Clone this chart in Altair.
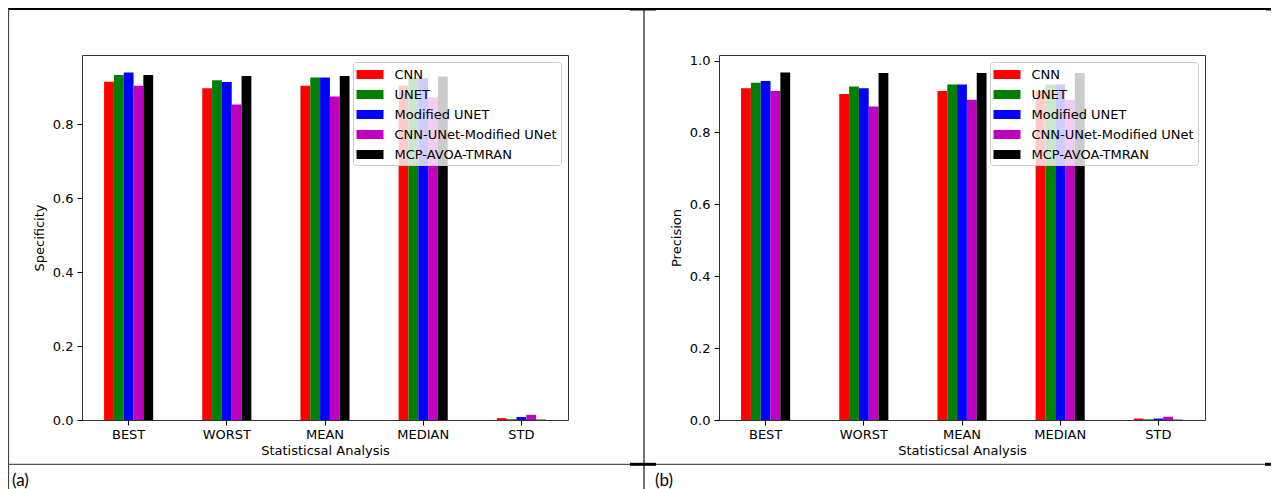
import altair as alt
import pandas as pd

categories = ["BEST", "WORST", "MEAN", "MEDIAN", "STD"]
series_names = ["CNN", "UNET", "Modified UNET", "CNN-UNet-Modified UNet", "MCP-AVOA-TMRAN"]
series_colors = ["#ff0000", "#008000", "#0000ff", "#bf00bf", "#000000"]

# (a) Specificity
spec_cnn = [0.915, 0.897, 0.904, 0.904, 0.005]
spec_unet = [0.933, 0.919, 0.926, 0.925, 0.002]
spec_mod = [0.940, 0.914, 0.926, 0.924, 0.008]
spec_cum = [0.904, 0.853, 0.875, 0.872, 0.014]
spec_mcp = [0.933, 0.930, 0.930, 0.929, 0.001]

# (b) Precision
prec_cnn = [0.923, 0.907, 0.915, 0.915, 0.004]
prec_unet = [0.938, 0.928, 0.933, 0.933, 0.002]
prec_mod = [0.943, 0.923, 0.933, 0.933, 0.004]
prec_cum = [0.915, 0.872, 0.891, 0.891, 0.009]
prec_mcp = [0.967, 0.965, 0.965, 0.965, 0.001]

spec_ticks = [0.0, 0.2, 0.4, 0.6, 0.8]
prec_ticks = [0.0, 0.2, 0.4, 0.6, 0.8, 1.0]

FONT = "DejaVu Sans"
W, H = 486, 365

one = pd.DataFrame({"k": [0]})


def hline(x1, x2, y, color="#444444", w=1.0):
    return alt.Chart(one).mark_rule(color=color, strokeWidth=w).encode(
        x=alt.value(x1), x2=alt.value(x2), y=alt.value(y))


def vline(x, y1, y2, color="#444444", w=1.0):
    return alt.Chart(one).mark_rule(color=color, strokeWidth=w).encode(
        x=alt.value(x), y=alt.value(y1), y2=alt.value(y2))


def label(txt, x, y):
    return alt.Chart(one).mark_text(font="Lato", fontSize=17, align="left",
                                    baseline="middle", color="#000000").encode(
        x=alt.value(x), y=alt.value(y), text=alt.value(txt))


def panel(vals, ytitle, yticks, extra_layers):
    rows = []
    for s, v in zip(series_names, vals):
        for c, val in zip(categories, v):
            rows.append({"category": c, "series": s, "value": val})
    df = pd.DataFrame(rows)
    ymax = float(df["value"].max()) * 1.05
    bars = alt.Chart(df).mark_bar().encode(
        x=alt.X("category:N", sort=categories, title="Statisticsal Analysis",
                scale=alt.Scale(paddingInner=0.5, paddingOuter=0.225),
                axis=alt.Axis(labelAngle=0, labelFontSize=13, titleFontSize=13,
                              labelFont=FONT, titleFont=FONT, titleFontWeight="normal",
                              tickSize=5, tickColor="#000000", labelPadding=3,
                              titlePadding=3, domain=False, labelColor="#000000",
                              titleColor="#000000")),
        xOffset=alt.XOffset("series:N", sort=series_names,
                            scale=alt.Scale(paddingInner=0, paddingOuter=0)),
        y=alt.Y("value:Q", title=ytitle,
                scale=alt.Scale(domain=[0, ymax], nice=False, zero=True),
                axis=alt.Axis(values=yticks, format=".1f", labelFontSize=13,
                              titleFontSize=13, labelFont=FONT, titleFont=FONT,
                              titleFontWeight="normal", tickSize=5,
                              tickColor="#000000", labelPadding=4, titlePadding=6,
                              domain=False, grid=False, labelColor="#000000",
                              titleColor="#000000")),
        color=alt.Color("series:N", sort=series_names,
                        scale=alt.Scale(domain=series_names, range=series_colors),
                        legend=alt.Legend(title=None, orient="top-right", offset=7,
                                          padding=3.5, fillColor="rgba(255,255,255,0.8)",
                                          strokeColor="#cccccc", cornerRadius=3,
                                          symbolType="M-1,-0.5H2V0.5H-1Z",
                                          symbolSize=324, symbolStrokeWidth=0,
                                          symbolOpacity=1, labelFont=FONT,
                                          labelFontSize=13, labelOffset=20,
                                          labelLimit=400, rowPadding=4,
                                          labelColor="#000000")),
    )
    return alt.layer(bars, *extra_layers).properties(width=W, height=H)


# page decorations (document table lines, captions) relative to left plot origin
deco = [
    hline(-77, 1197, -46, color="#000000", w=2),
    hline(-77, 1197, 409.3, color="#555555", w=1.2),
    vline(-73.5, -46, 440, color="#444444", w=1.2),
    vline(562, -46, 440, color="#444444", w=1.5),
    hline(548, 574, -46, color="#000000", w=3),
    hline(548, 574, 409.3, color="#000000", w=3),
    hline(1184, 1197, -46, color="#000000", w=3),
    hline(1183, 1197, 409.3, color="#000000", w=3),
    label("(a)", -70, 426),
    label("(b)", 573, 426),
]

left = panel([spec_cnn, spec_unet, spec_mod, spec_cum, spec_mcp], "Specificity",
             spec_ticks, deco)
right = panel([prec_cnn, prec_unet, prec_mod, prec_cum, prec_mcp], "Precision",
              prec_ticks, [])

chart = alt.hconcat(left, right, spacing=151, bounds="flush").resolve_scale(
    color="independent").resolve_legend(color="independent").properties(
    autosize=alt.AutoSizeParams(type="none"),
    padding={"left": 74, "top": 47, "right": 1189, "bottom": 69},
    background="#ffffff",
).configure_view(stroke="#333333", strokeWidth=1)

chart.save("out.html", embed_options={"renderer": "svg", "actions": False})
